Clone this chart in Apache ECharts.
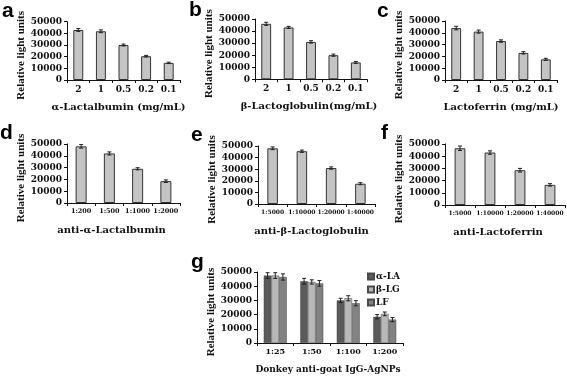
<!DOCTYPE html>
<html lang="en">
<head>
    <meta charset="utf-8">
    <title>Relative light units</title>
    <script src="https://cdn.jsdelivr.net/npm/echarts@6/dist/echarts.min.js"></script>
</head>
<body style="margin:0; background:#fff;">
<div id="main" style="width: 567px; height: 378px;"></div>

<script type="text/javascript">
    // categories
    const concCats = ['2', '1', '0.5', '0.2', '0.1'];
    const dCats = ['1:200', '1:500', '1:1000', '1:2000'];
    const efCats = ['1:5000', '1:10000', '1:20000', '1:40000'];
    const gCats = ['1:25', '1:50', '1:100', '1:200'];
    const yTicks = [0, 10000, 20000, 30000, 40000, 50000];

    // values (mean, error)
    const aVals = [42900, 41800, 30000, 20400, 14700];
    const aErr = [1200, 1200, 800, 700, 600];
    const bVals = [46000, 43000, 31000, 20000, 14000];
    const bErr = [1300, 900, 1000, 900, 800];
    const cVals = [44000, 41000, 33000, 23000, 17500];
    const cErr = [1500, 1300, 1000, 1000, 900];
    const dVals = [48000, 42000, 29000, 18500];
    const dErr = [1500, 1300, 900, 1100];
    const eVals = [48000, 45500, 31000, 17500];
    const eErr = [1200, 1000, 1000, 900];
    const fVals = [46500, 43000, 28500, 16500];
    const fErr = [1800, 1400, 1500, 1000];
    const gNames = ['α-LA', 'β-LG', 'LF'];
    const gLA = [47500, 43500, 30000, 18500];
    const gLAErr = [2000, 2000, 1500, 1500];
    const gLG = [47500, 43000, 31500, 20500];
    const gLGErr = [2000, 1500, 1800, 1300];
    const gLF = [46500, 42000, 28000, 16500];
    const gLFErr = [2200, 2000, 1800, 1500];

    const serifH = 'DejaVu Serif';
    const serifV = 'Liberation Serif';

    // panel layout: grid box, label sizes, name offsets
    const panels = [
        {letter: 'a', cats: concCats, vals: aVals, err: aErr, title: 'α-Lactalbumin (mg/mL)',
            grid: {left: 67, top: 21.7, width: 113, height: 58.3}, lab: 9, yGap: 35, tShift: 10, bw: '44%'},
        {letter: 'b', cats: concCats, vals: bVals, err: bErr, title: 'β-Lactoglobulin(mg/mL)',
            grid: {left: 255, top: 19, width: 112, height: 60.3}, lab: 9, yGap: 27, tShift: 4, bw: '44%'},
        {letter: 'c', cats: concCats, vals: cVals, err: cErr, title: 'Lactoferrin (mg/mL)',
            grid: {left: 445, top: 21, width: 112, height: 59}, lab: 9, yGap: 27, tShift: 0, bw: '44%'},
        {letter: 'd', cats: dCats, vals: dVals, err: dErr, title: 'anti-α-Lactalbumin',
            grid: {left: 67, top: 144, width: 113, height: 59}, lab: 6.5, yGap: 32, tShift: 24, bw: '39%'},
        {letter: 'e', cats: efCats, vals: eVals, err: eErr, title: 'anti-β-Lactoglobulin',
            grid: {left: 258, top: 146, width: 117, height: 58}, lab: 6, yGap: 30, tShift: 10, bw: '36%'},
        {letter: 'f', cats: efCats, vals: fVals, err: fErr, title: 'anti-Lactoferrin',
            grid: {left: 445, top: 144, width: 120, height: 61}, lab: 6, yGap: 29, tShift: 14, bw: '36%'},
        {letter: 'g', cats: gCats, title: 'Donkey anti-goat IgG-AgNPs',
            grid: {left: 257, top: 272, width: 146, height: 71}, lab: 8, yGap: 31, tShift: 4, titleSize: 9}
    ];
    const letterPos = {a: [2, 1], b: [189, 0], c: [377, 1], d: [0, 123], e: [191, 125], f: [381, 123], g: [191, 252]};

    function errItem(nBars, idx, barFrac) {
        return function (params, api) {
            const x = api.value(0), y = api.value(1), e = api.value(2);
            const catW = api.size([1, 0])[0];
            const barW = catW * barFrac;
            const off = (idx - (nBars - 1) / 2) * barW;
            const hi = api.coord([x, y + e]);
            const lo = api.coord([x, y - e]);
            const cx = hi[0] + off;
            const cap = 2;
            const st = {stroke: '#222', lineWidth: 1};
            return {
                type: 'group',
                children: [
                    {type: 'line', shape: {x1: cx, y1: hi[1], x2: cx, y2: lo[1]}, style: st},
                    {type: 'line', shape: {x1: cx - cap, y1: hi[1], x2: cx + cap, y2: hi[1]}, style: st},
                    {type: 'line', shape: {x1: cx - cap, y1: lo[1], x2: cx + cap, y2: lo[1]}, style: st}
                ]
            };
        };
    }

    function errData(vals, err) {
        return vals.map(function (v, i) { return [i, v, err[i]]; });
    }

    const grids = [], xAxes = [], yAxes = [], series = [], graphics = [];

    panels.forEach(function (p, k) {
        grids.push(Object.assign({containLabel: false}, p.grid));
        xAxes.push({
            type: 'category', gridIndex: k, data: p.cats,
            name: p.title, nameLocation: 'middle', nameGap: 22,
            nameTextStyle: {fontFamily: serifH, fontWeight: 'bold', fontSize: p.titleSize || 10, color: '#111',
                padding: [0, p.tShift, 0, 0]},
            axisLine: {lineStyle: {color: '#111', width: 1}},
            axisTick: {show: true, length: 3, lineStyle: {color: '#111'}},
            axisLabel: {fontFamily: serifH, fontWeight: 'bold', fontSize: p.lab, color: '#111', margin: 5, interval: 0}
        });
        yAxes.push({
            type: 'value', gridIndex: k, min: yTicks[0], max: yTicks[yTicks.length - 1], interval: yTicks[1] - yTicks[0],
            name: 'Relative light units', nameLocation: 'middle', nameGap: p.yGap, nameRotate: 90,
            nameTextStyle: {fontFamily: serifV, fontWeight: 'bold', fontSize: 11, color: '#111', padding: [0, 9, 0, 0]},
            axisLine: {show: true, lineStyle: {color: '#111', width: 1}},
            axisTick: {show: true, length: 3, lineStyle: {color: '#111'}},
            splitLine: {show: false},
            axisLabel: {fontFamily: serifH, fontWeight: 'bold', fontSize: 9, color: '#111', margin: 5,
                formatter: function (v) { return String(v); }}
        });
        if (p.letter !== 'g') {
            series.push({
                type: 'bar', xAxisIndex: k, yAxisIndex: k, data: p.vals, barWidth: p.bw,
                itemStyle: {color: '#c4c4c4', borderColor: '#333', borderWidth: 1}
            });
            series.push({
                type: 'custom', xAxisIndex: k, yAxisIndex: k, data: errData(p.vals, p.err),
                renderItem: errItem(1, 0, 0), z: 5
            });
        }
        const lp = letterPos[p.letter];
        graphics.push({
            type: 'text', left: lp[0], top: lp[1],
            style: {text: p.letter, fontFamily: 'Liberation Sans', fontWeight: 'bold', fontSize: 21, fill: '#000'}
        });
    });

    // grouped panel g
    const gk = panels.length - 1;
    const gColors = ['#5a5a5a', '#b8b8b8', '#828282'];
    const gSets = [[gLA, gLAErr], [gLG, gLGErr], [gLF, gLFErr]];
    const gFrac = 0.21;
    gSets.forEach(function (s, i) {
        series.push({
            name: gNames[i], type: 'bar', xAxisIndex: gk, yAxisIndex: gk, data: s[0],
            barWidth: (gFrac * 100) + '%', barGap: '0%',
            itemStyle: {color: gColors[i], borderColor: '#4a4a4a', borderWidth: 0.5}
        });
    });
    gSets.forEach(function (s, i) {
        series.push({
            type: 'custom', xAxisIndex: gk, yAxisIndex: gk, data: errData(s[0], s[1]),
            renderItem: errItem(3, i, gFrac), z: 5
        });
    });

    const myChart = echarts.init(document.getElementById('main'));
    const option = {
        backgroundColor: '#fff',
        animation: false,
        grid: grids,
        xAxis: xAxes,
        yAxis: yAxes,
        legend: {
            data: gNames, orient: 'vertical', left: 362, top: 267,
            itemWidth: 6, itemHeight: 6, itemGap: 4, icon: 'rect',
            textStyle: {fontFamily: serifH, fontWeight: 'bold', fontSize: 9, color: '#111', padding: [0, 0, 0, -3]}
        },
        series: series,
        graphic: graphics
    };
    myChart.setOption(option);
</script>
</body>
</html>
